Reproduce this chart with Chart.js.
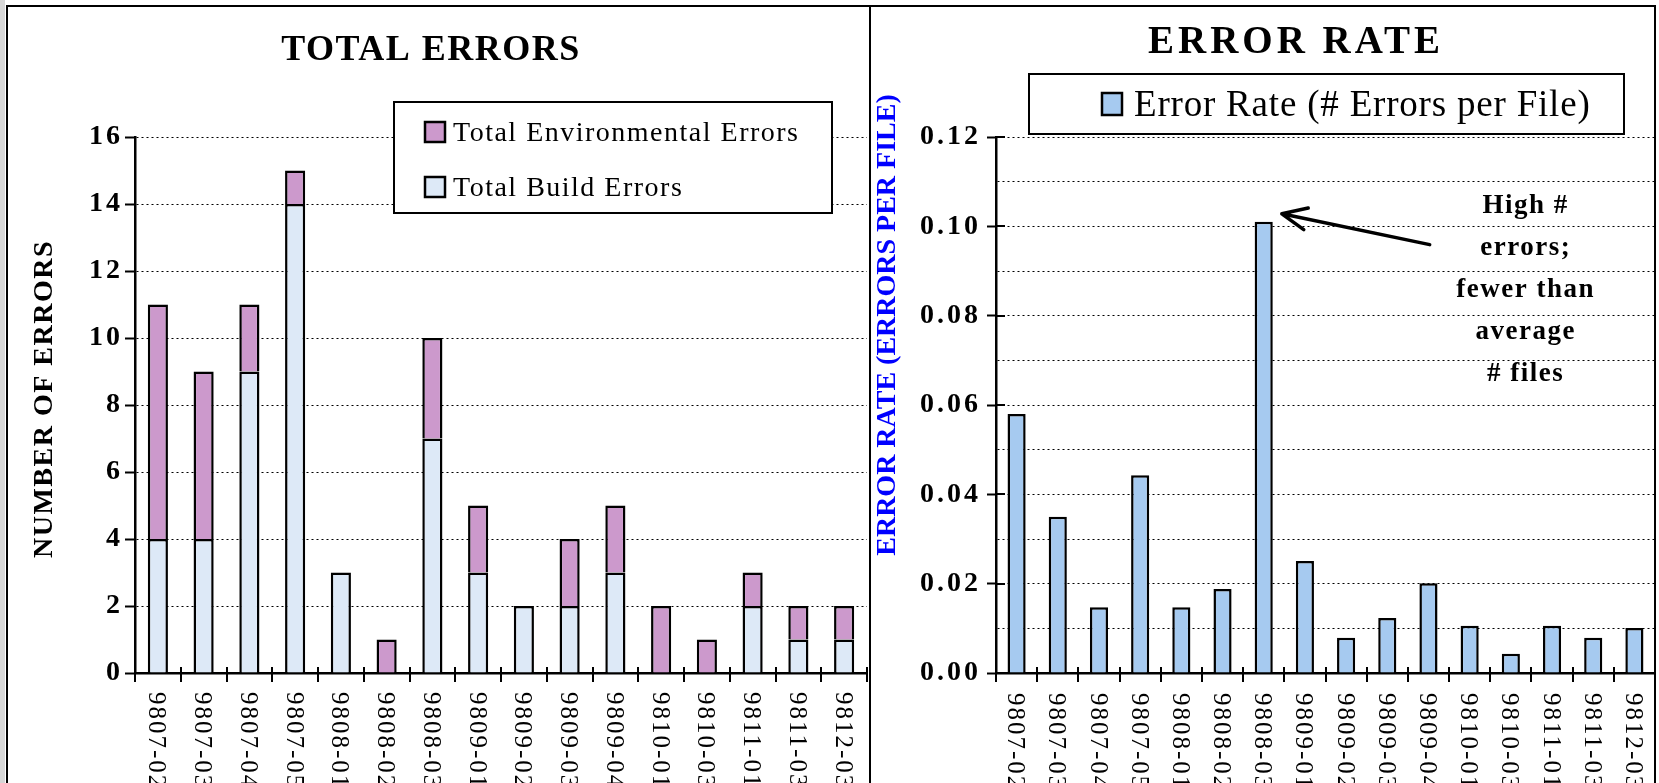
<!DOCTYPE html>
<html>
<head>
<meta charset="utf-8">
<title>Total Errors and Error Rate</title>
<script src="https://cdn.jsdelivr.net/npm/chart.js@4.4.1/dist/chart.umd.min.js"></script>
<style>
  html, body { margin: 0; padding: 0; background: #fff; }
  body { width: 1659px; height: 783px; position: relative; overflow: hidden; }
  canvas { position: absolute; top: 0; }
  #cvTotal { left: 0; }
  #cvRate { left: 870px; }
  .rule { position: absolute; background: #000; z-index: 2; }
  #strip { position: absolute; left: 0; top: 0; width: 5px; height: 783px; background: #d6d6d6; }
</style>
</head>
<body>
<div id="strip"></div>
<div class="rule" style="left:6px;top:5px;width:1650px;height:2px"></div>
<div class="rule" style="left:6px;top:5px;width:2px;height:778px"></div>
<div class="rule" style="left:869px;top:5px;width:2px;height:778px"></div>
<div class="rule" style="left:1654px;top:5px;width:2px;height:778px"></div>
<canvas id="cvTotal" width="870" height="783"></canvas>
<canvas id="cvRate" width="789" height="783"></canvas>
<script>
// ---- data ----
const periods = ['9807-02', '9807-03', '9807-04', '9807-05', '9808-01', '9808-02', '9808-03', '9809-01',
                 '9809-02', '9809-03', '9809-04', '9810-01', '9810-03', '9811-01', '9811-03', '9812-03'];
const buildErrors         = [4, 4, 9, 14, 3, 0, 7, 3, 2, 2, 3, 0, 0, 2, 1, 1];
const environmentalErrors = [7, 5, 2, 1, 0, 1, 3, 2, 0, 2, 2, 2, 1, 1, 1, 1];
const errorRate = [0.058, 0.035, 0.0147, 0.0443, 0.0147, 0.0188, 0.101, 0.0251,
                   0.0079, 0.0123, 0.0201, 0.0106, 0.0043, 0.0106, 0.0079, 0.0101];

const totalAxis = { min: 0, max: 16, step: 2 };
const rateAxis  = { min: 0, max: 0.12, step: 0.01, labelEvery: 2, decimals: 2 };

// ---- text ----
const totalTitle = 'TOTAL ERRORS';
const totalAxisTitle = 'NUMBER OF ERRORS';
const buildLabel = 'Total Build Errors';
const envLabel = 'Total Environmental Errors';
const rateTitle = 'ERROR RATE';
const rateAxisTitle = 'ERROR RATE (ERRORS PER FILE)';
const rateLabel = 'Error Rate (# Errors per File)';
const noteLines = ['High #', 'errors;', 'fewer than', 'average', '# files'];
const notePoint = [12.36, 0.105];      // (category index, rate) of the first note line
const arrowFrom = [10.03, 0.0959];
const arrowTo   = [6.44, 0.1028];

// ---- drawing helpers ----
const SERIF = '"Liberation Serif", "Times New Roman", Times, serif';
const CAP = 0.662;    // cap height of the serif face (em)
const DIGIT = 0.676;  // digit height (em)
const font = (size, bold) => (bold ? 'bold ' : '') + size + 'px ' + SERIF;

Chart.defaults.font.family = SERIF;
Chart.defaults.color = '#000';

function text(ctx, str, x, y, size, bold, spacing, align, color) {
  ctx.save();
  ctx.font = font(size, bold);
  ctx.letterSpacing = (spacing || 0) + 'px';
  ctx.textAlign = align || 'left';
  ctx.textBaseline = 'alphabetic';
  ctx.fillStyle = color || '#000';
  ctx.fillText(str, x, y);
  ctx.restore();
}

const panelDecor = {
  id: 'panelDecor',
  beforeDraw(chart, args, o) {
    chart.ctx.letterSpacing = (o.tickSpacing || 0) + 'px';
  },
  afterDraw(chart, args, o) {
    const ctx = chart.ctx;
    const xs = chart.scales.x, ys = chart.scales.y, area = chart.chartArea;
    const n = chart.data.labels.length;
    ctx.save();
    ctx.letterSpacing = '0px';
    ctx.strokeStyle = '#000';
    ctx.fillStyle = '#000';

    // category boundary ticks crossing the x axis
    ctx.lineWidth = 2;
    ctx.beginPath();
    for (let i = 0; i <= n; i++) {
      const px = Math.round(xs.getPixelForValue(i - 0.5));
      ctx.moveTo(px, area.bottom - o.xTickUp);
      ctx.lineTo(px, area.bottom + o.xTickDown);
    }
    ctx.stroke();

    // inner half of the labelled y ticks
    if (o.yTickIn) {
      ctx.beginPath();
      ys.ticks.forEach((t, i) => {
        if (i % o.yTickEvery !== 0) return;
        const py = Math.round(ys.getPixelForValue(t.value));
        ctx.moveTo(area.left, py);
        ctx.lineTo(area.left + o.yTickIn, py);
      });
      ctx.stroke();
    }

    // category labels, turned clockwise
    chart.data.labels.forEach((lab, i) => {
      const px = xs.getPixelForTick(i);
      ctx.save();
      ctx.translate(px, area.bottom + o.xLabelGap);
      ctx.rotate(Math.PI / 2);
      text(ctx, lab, 0, o.xLabelSize * DIGIT / 2, o.xLabelSize, false, o.xLabelSpacing, 'left');
      ctx.restore();
    });

    // panel title
    const T = o.title;
    text(ctx, T.text, T.x, T.baseline, T.size, true, T.spacing, 'center');

    // value axis title, reading upward
    const A = o.axisTitle;
    ctx.save();
    ctx.translate(A.x, A.y);
    ctx.rotate(-Math.PI / 2);
    text(ctx, A.text, 0, A.size * CAP / 2, A.size, true, A.spacing, 'center', A.color);
    ctx.restore();

    // boxed legend
    const L = o.legend;
    ctx.fillStyle = '#fff';
    ctx.fillRect(L.x, L.y, L.w, L.h);
    ctx.lineWidth = 2;
    ctx.strokeRect(L.x, L.y, L.w, L.h);
    L.items.forEach((di, k) => {
      const ds = chart.data.datasets[di];
      const cy = L.firstRow + k * L.rowGap;
      ctx.fillStyle = ds.backgroundColor;
      ctx.fillRect(L.swX, cy - L.swH / 2, L.swW, L.swH);
      ctx.lineWidth = 2.5;
      ctx.strokeRect(L.swX, cy - L.swH / 2, L.swW, L.swH);
      text(ctx, ds.label, L.textX, cy + L.size * CAP / 2, L.size, false, L.spacing, 'left');
    });

    // note with arrow
    if (o.note) {
      const N = o.note;
      const nx = xs.getPixelForValue(N.at[0]);
      const ny = ys.getPixelForValue(N.at[1]);
      N.lines.forEach((ln, k) => {
        text(ctx, ln, nx, ny + k * N.lineGap + N.size * CAP / 2, N.size, true, N.spacing, 'center');
      });
      const x1 = xs.getPixelForValue(N.from[0]), y1 = ys.getPixelForValue(N.from[1]);
      const x2 = xs.getPixelForValue(N.to[0]), y2 = ys.getPixelForValue(N.to[1]);
      const ang = Math.atan2(y1 - y2, x1 - x2);
      ctx.lineWidth = 3.5;
      ctx.lineCap = 'round';
      ctx.beginPath();
      ctx.moveTo(x1, y1);
      ctx.lineTo(x2, y2);
      [-1, 1].forEach(s => {
        ctx.moveTo(x2, y2);
        ctx.lineTo(x2 + N.head * Math.cos(ang + s * 0.42), y2 + N.head * Math.sin(ang + s * 0.42));
      });
      ctx.stroke();
    }
    ctx.restore();
  }
};

function baseOptions(axis, yWidth, padRight, decor, extraY) {
  return {
    responsive: false,
    animation: false,
    devicePixelRatio: 1,
    layout: { padding: { top: 137, right: padRight, left: 0, bottom: 0 } },
    datasets: { bar: { categoryPercentage: 1, barPercentage: 0.44 } },
    plugins: { legend: { display: false }, tooltip: { enabled: false }, title: { display: false }, panelDecor: decor },
    scales: {
      x: {
        stacked: true,
        offset: true,
        grid: { display: false },
        border: { display: true, color: '#000', width: 2.5 },
        ticks: { display: false },
        afterFit(s) { s.height = 110; }
      },
      y: Object.assign({
        stacked: true,
        min: axis.min,
        max: axis.max,
        grid: { color: '#000', lineWidth: 1, drawTicks: true, tickLength: 10, tickWidth: 2, tickColor: '#000' },
        border: { display: true, color: '#000', width: 2.5, dash: [2, 3] },
        afterFit(s) { s.width = yWidth; }
      }, extraY)
    }
  };
}

// ---- left panel: stacked error counts ----
new Chart(document.getElementById('cvTotal'), {
  type: 'bar',
  data: {
    labels: periods,
    datasets: [
      { label: buildLabel, data: buildErrors, backgroundColor: '#dde9f7', borderColor: '#000', borderWidth: 2.5 },
      { label: envLabel, data: environmentalErrors, backgroundColor: '#cc99cc', borderColor: '#000', borderWidth: 2.5 }
    ]
  },
  options: baseOptions(totalAxis, 135, 3, {
    tickSpacing: 3,
    title: { text: totalTitle, x: 431, baseline: 60, size: 36, spacing: 1.5 },
    axisTitle: { text: totalAxisTitle, x: 43, y: 399, size: 28, spacing: 1.5, color: '#000' },
    legend: { x: 394, y: 102, w: 438, h: 111, swX: 425, swW: 20, swH: 20, firstRow: 132, rowGap: 55,
              textX: 453, size: 28, spacing: 1.5, items: [1, 0] },
    xTickUp: 6, xTickDown: 9, xLabelGap: 19, xLabelSize: 25, xLabelSpacing: 2
  }, {
    ticks: { stepSize: totalAxis.step, font: { size: 28, weight: 'bold' }, padding: 2, color: '#000' }
  }),
  plugins: [panelDecor]
});

// ---- right panel: error rate per file ----
new Chart(document.getElementById('cvRate'), {
  type: 'bar',
  data: {
    labels: periods,
    datasets: [
      { label: rateLabel, data: errorRate, backgroundColor: '#a6caf0', borderColor: '#000', borderWidth: 2.5 }
    ]
  },
  options: baseOptions(rateAxis, 126, 4, {
    tickSpacing: 3,
    title: { text: rateTitle, x: 426, baseline: 53, size: 39, spacing: 4 },
    axisTitle: { text: rateAxisTitle, x: 16, y: 325, size: 28, spacing: 0, color: '#0000ff' },
    legend: { x: 159, y: 74, w: 595, h: 60, swX: 232, swW: 20, swH: 22, firstRow: 104, rowGap: 0,
              textX: 264, size: 37, spacing: 0.8, items: [0] },
    yTickIn: 9, yTickEvery: rateAxis.labelEvery,
    xTickUp: 6, xTickDown: 9, xLabelGap: 20, xLabelSize: 25, xLabelSpacing: 2,
    note: { lines: noteLines, at: notePoint, lineGap: 42, size: 27, spacing: 1.5,
            from: arrowFrom, to: arrowTo, head: 27 }
  }, {
    ticks: {
      stepSize: rateAxis.step,
      font: { size: 28, weight: 'bold' },
      padding: 6,
      color: '#000',
      callback: (v, i) => (i % rateAxis.labelEvery === 0 ? Number(v).toFixed(rateAxis.decimals) : '')
    },
    grid: {
      color: '#000', lineWidth: 1, drawTicks: true, tickLength: 9, tickWidth: 2,
      tickColor: (c) => (c.index % rateAxis.labelEvery === 0 ? '#000' : 'rgba(0,0,0,0)')
    }
  }),
  plugins: [panelDecor]
});
</script>
</body>
</html>
